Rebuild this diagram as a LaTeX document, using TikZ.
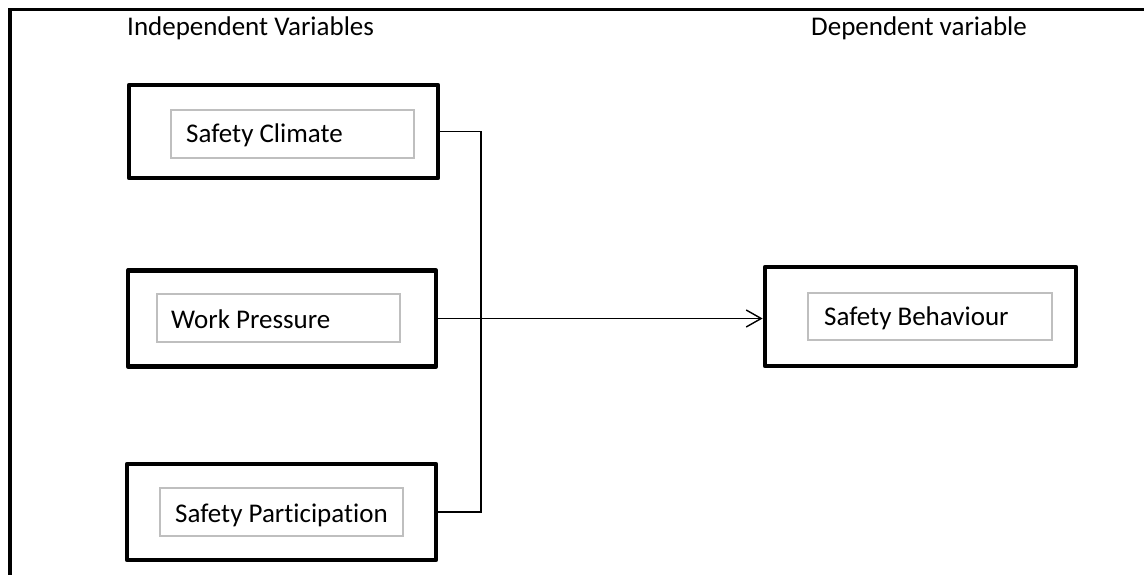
\documentclass[tikz,border=0pt]{standalone}
\usepackage{fontspec}
\setmainfont{Carlito}[Ligatures={NoCommon}]
\usetikzlibrary{arrows.meta}

\tikzset{
  outerbox/.style={draw=black, line width=4.8pt, line join=round, rectangle,
    inner sep=0pt, minimum width=#1},
  innerbox/.style={draw=black!25, line width=1.2pt, rectangle, inner sep=0pt,
    minimum width=243pt, minimum height=48pt},
  boxlabel/.style={anchor=base west, inner sep=0pt, font=\fontsize{27}{32}\selectfont},
  header/.style={anchor=base west, inner sep=0pt, font=\fontsize{27}{32}\selectfont},
  link/.style={draw=black, line width=1.4pt},
}

\begin{document}
\begin{tikzpicture}[x=1pt, y=-1pt]
  \useasboundingbox (0,0) rectangle (1144,575);

  % frame: only the top and left edges fall inside the page
  \draw[line width=3.2pt] (10,575) -- (10,9.5) -- (1144,9.5);

  % column headings
  \node[header] (hind) at (127,36) {Independent Variables};
  \node[header] (hdep) at (811,36) {Dependent variable};

  % independent variables
  \node[outerbox=309pt, minimum height=93pt] (sc) at (283.5,131.5) {};
  \node[innerbox] (scin) at (292.5,134) {};
  \node[boxlabel] (sclab) at (186,143) {Safety Climate};

  \node[outerbox=308pt, minimum height=96pt] (wp) at (282,318.5) {};
  \node[innerbox] (wpin) at (278.5,318) {};
  \node[boxlabel] (wplab) at (171,328) {Work Pressure};

  \node[outerbox=309pt, minimum height=96pt] (sp) at (281.5,512) {};
  \node[innerbox] (spin) at (281.5,512) {};
  \node[boxlabel] (splab) at (175,522) {Safety Participation};

  % dependent variable
  \node[outerbox=311pt, minimum height=99pt] (sb) at (920.5,316.5) {};
  \node[innerbox, minimum width=244pt, minimum height=47pt] (sbin) at (930,316.5) {};
  \node[boxlabel] (sblab) at (824,325) {Safety Behaviour};

  % connectors
  \coordinate (bus) at (481,0);
  \draw[link] (sc.east) -- (sc.east -| bus) -- (sp.east -| bus) -- (sp.east);
  \draw[link, -{Straight Barb[length=15pt, width=17pt, line width=1.4pt]}]
    (wp.east) -- (wp.east -| sb.west);
\end{tikzpicture}
\end{document}
